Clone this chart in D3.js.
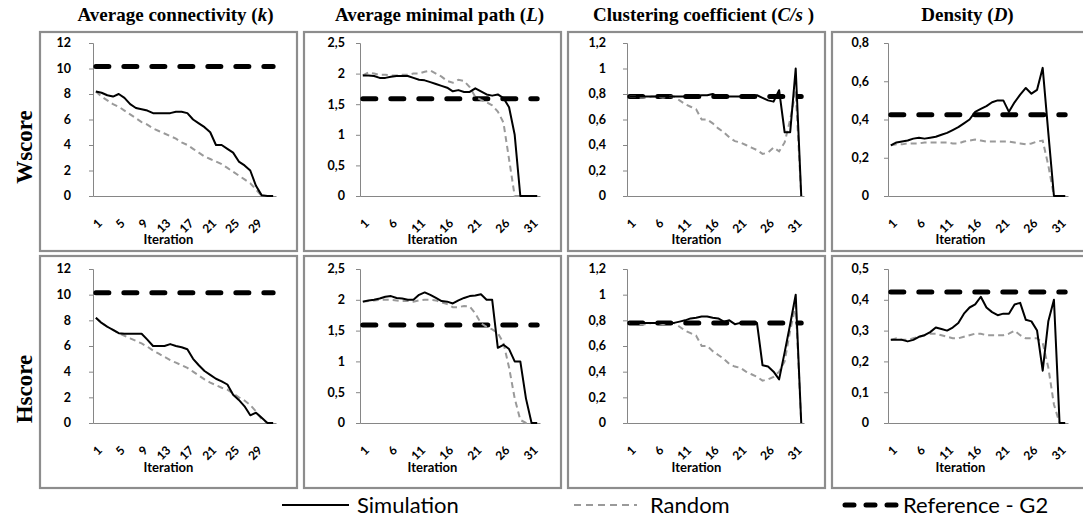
<!DOCTYPE html>
<html>
<head>
<meta charset="utf-8">
<script src="https://cdn.jsdelivr.net/npm/d3@7"></script>
<style>
body { margin: 0; background: #fff; }
</style>
</head>
<body>
<div id="chart"></div>
<script>
// iterations on the category axis
var iterations = [1,2,3,4,5,6,7,8,9,10,11,12,13,14,15,16,17,18,19,20,21,22,23,24,25,26,27,28,29,30,31,32];
var xTicksK = [1,5,9,13,17,21,25,29];
var xTicksOther = [1,6,11,16,21,26,31];

var yTicksK = [0,2,4,6,8,10,12];
var yTicksL = [0,0.5,1,1.5,2,2.5];
var yTicksC = [0,0.2,0.4,0.6,0.8,1,1.2];
var yTicksDW = [0,0.2,0.4,0.6,0.8];
var yTicksDH = [0,0.1,0.2,0.3,0.4,0.5];

// Wscore row
var simK_W = [8.2,8.1,7.9,7.8,8.0,7.7,7.2,6.9,6.8,6.7,6.5,6.5,6.5,6.5,6.6,6.6,6.5,6.0,5.7,5.4,5.0,4.0,4.0,3.7,3.4,2.7,2.4,2.0,0.8,0.05,0,0];
var randK_W = [8.2,7.8,7.5,7.2,7.0,6.7,6.4,6.1,5.8,5.6,5.3,5.1,4.9,4.7,4.5,4.2,4.0,3.7,3.4,3.1,2.9,2.7,2.5,2.2,1.9,1.6,1.3,1.0,0.5,0,0,0];
var simL_W = [1.97,1.97,1.96,1.93,1.93,1.95,1.96,1.96,1.96,1.93,1.90,1.89,1.86,1.83,1.80,1.77,1.71,1.73,1.70,1.70,1.76,1.71,1.66,1.64,1.66,1.60,1.45,1.0,0,0,0,0];
var randL_W = [1.97,2.02,2.0,1.98,1.98,1.97,1.97,1.98,1.98,2.0,2.0,2.03,2.05,2.0,1.95,1.88,1.85,1.9,1.88,1.78,1.62,1.57,1.53,1.48,1.38,1.2,0.6,0,0,0,0,0];
var simC_W = [0.78,0.78,0.78,0.78,0.78,0.78,0.78,0.78,0.78,0.78,0.78,0.78,0.78,0.79,0.79,0.80,0.78,0.77,0.78,0.78,0.78,0.78,0.78,0.79,0.77,0.75,0.74,0.83,0.5,0.5,1.0,0];
var randC_W = [0.78,0.78,0.77,0.77,0.78,0.78,0.77,0.78,0.78,0.75,0.72,0.70,0.68,0.60,0.60,0.57,0.53,0.50,0.46,0.43,0.42,0.40,0.38,0.36,0.33,0.34,0.38,0.35,0.42,0.6,0.82,0];
var simD_W = [0.265,0.28,0.285,0.29,0.30,0.305,0.30,0.305,0.31,0.32,0.33,0.345,0.36,0.38,0.40,0.44,0.455,0.47,0.49,0.50,0.50,0.44,0.49,0.53,0.565,0.535,0.555,0.67,0.33,0,0,0];
var randD_W = [0.265,0.27,0.27,0.275,0.275,0.275,0.28,0.28,0.28,0.28,0.28,0.275,0.275,0.285,0.29,0.295,0.29,0.285,0.285,0.285,0.285,0.285,0.28,0.275,0.27,0.275,0.285,0.29,0.16,0,0,0];

// Hscore row
var simK_H = [8.2,7.8,7.5,7.25,7.0,6.95,6.95,6.95,6.95,6.5,6.0,6.0,6.0,6.15,6.0,5.9,5.75,5.0,4.5,4.05,3.75,3.45,3.25,3.0,2.2,1.8,1.3,0.6,0.8,0.4,0,0];
var randK_H = [8.2,7.8,7.5,7.25,7.0,6.8,6.6,6.4,6.2,5.95,5.65,5.4,5.15,4.9,4.7,4.5,4.3,4.0,3.7,3.4,3.15,2.95,2.75,2.6,2.3,2.0,1.75,1.4,0.9,0.3,0,0];
var simL_H = [1.97,1.99,2.0,2.02,2.05,2.06,2.03,2.02,2.0,2.0,2.08,2.12,2.08,2.03,1.98,1.97,1.94,1.99,2.03,2.06,2.07,2.09,2.0,2.0,1.22,1.27,1.2,1.0,1.0,0.4,0,0];
var randL_H = [1.97,1.98,1.99,2.0,2.0,2.0,1.99,1.98,1.98,1.97,1.99,2.0,2.0,1.99,1.96,1.93,1.88,1.88,1.9,1.89,1.78,1.62,1.56,1.52,1.46,1.3,0.9,0.4,0.05,0,0,0];
var simC_H = [0.78,0.78,0.78,0.78,0.78,0.78,0.78,0.78,0.78,0.79,0.80,0.815,0.82,0.83,0.83,0.82,0.815,0.79,0.80,0.77,0.78,0.78,0.78,0.78,0.45,0.44,0.40,0.34,0.55,0.77,1.0,0];
var randC_H = [0.78,0.78,0.77,0.77,0.78,0.78,0.77,0.78,0.78,0.75,0.72,0.70,0.68,0.60,0.60,0.56,0.53,0.50,0.46,0.44,0.43,0.40,0.38,0.36,0.33,0.34,0.36,0.40,0.48,0.72,0.92,0];
var simD_H = [0.27,0.27,0.27,0.265,0.27,0.28,0.285,0.295,0.31,0.305,0.30,0.31,0.325,0.355,0.375,0.385,0.41,0.375,0.36,0.35,0.355,0.355,0.385,0.39,0.335,0.33,0.30,0.17,0.33,0.40,0,0];
var randD_H = [0.27,0.275,0.27,0.27,0.275,0.28,0.285,0.29,0.29,0.285,0.28,0.275,0.275,0.28,0.285,0.29,0.29,0.285,0.285,0.285,0.285,0.29,0.30,0.285,0.275,0.275,0.275,0.26,0.18,0.06,0,0];

// Reference - G2 values
var refK = 10.15, refL = 1.59, refC = 0.78, refD = 0.425;

var rowNames = ["Wscore", "Hscore"];
var titles = [
    ["Average connectivity (", "k", ")"],
    ["Average minimal path (", "L", ")"],
    ["Clustering coefficient (", "C/s", " )"],
    ["Density (", "D", ")"]
];

var panels = [
    { row: 0, col: 0, sim: simK_W, rand: randK_W, ref: refK, yTicks: yTicksK, xTicks: xTicksK },
    { row: 0, col: 1, sim: simL_W, rand: randL_W, ref: refL, yTicks: yTicksL, xTicks: xTicksOther },
    { row: 0, col: 2, sim: simC_W, rand: randC_W, ref: refC, yTicks: yTicksC, xTicks: xTicksOther },
    { row: 0, col: 3, sim: simD_W, rand: randD_W, ref: refD, yTicks: yTicksDW, xTicks: xTicksOther },
    { row: 1, col: 0, sim: simK_H, rand: randK_H, ref: refK, yTicks: yTicksK, xTicks: xTicksK },
    { row: 1, col: 1, sim: simL_H, rand: randL_H, ref: refL, yTicks: yTicksL, xTicks: xTicksOther },
    { row: 1, col: 2, sim: simC_H, rand: randC_H, ref: refC, yTicks: yTicksC, xTicks: xTicksOther },
    { row: 1, col: 3, sim: simD_H, rand: randD_H, ref: refD, yTicks: yTicksDH, xTicks: xTicksOther }
];

var w = 1083, h = 519;
var panelLeft = [40, 304, 568, 832];
var panelW = 257;
var rowTop = [32, 256];
var rowBottom = [251, 488];
var plotLeft = [93, 360, 627, 888];
var plotTop = [43, 269];
var plotBase = [196, 423];
var labelEnd = [71, 345, 606, 869];

var sans = "Lato, 'Noto Sans', sans-serif";
var serif = "'Liberation Serif', 'Times New Roman', serif";
var axisGrey = "#868686";

var svg = d3.select("#chart")
    .append("svg")
    .attr("width", w)
    .attr("height", h);

function fmt(d) {
    return String(d).replace(".", ",");
}

panels.forEach(function (p) {
    var px = panelLeft[p.col];
    var x0 = plotLeft[p.col];
    var x1 = px + panelW - 21;

    // panel frame
    svg.append("rect")
        .attr("x", px)
        .attr("y", rowTop[p.row])
        .attr("width", panelW)
        .attr("height", rowBottom[p.row] - rowTop[p.row])
        .attr("fill", "none")
        .attr("stroke", "#8d8d8d")
        .attr("stroke-width", 2.2);

    var xScale = d3.scaleBand()
        .domain(iterations)
        .range([x0, x1]);
    var cx = function (d) { return xScale(d) + xScale.bandwidth() / 2; };

    var yScale = d3.scaleLinear()
        .domain([0, p.yTicks[p.yTicks.length - 1]])
        .range([plotBase[p.row], plotTop[p.row]]);

    var g = svg.append("g");

    // y axis
    var yAxis = d3.axisLeft(yScale)
        .tickValues(p.yTicks)
        .tickSize(4)
        .tickFormat("");
    var ya = g.append("g")
        .attr("transform", "translate(" + x0 + ",0)")
        .call(yAxis);
    ya.select(".domain").attr("stroke", axisGrey);
    ya.selectAll(".tick line").attr("stroke", axisGrey);

    g.selectAll(".ylab")
        .data(p.yTicks)
        .enter()
        .append("text")
        .attr("x", labelEnd[p.col])
        .attr("y", function (d) { return yScale(d); })
        .attr("dy", "0.35em")
        .attr("text-anchor", "end")
        .attr("font-family", sans)
        .attr("font-weight", "bold")
        .attr("font-size", "12.5px")
        .attr("fill", "#000")
        .text(fmt);

    // x axis line
    var xAxis = d3.axisBottom(xScale).tickSize(0).tickFormat("");
    var xa = g.append("g")
        .attr("transform", "translate(0," + plotBase[p.row] + ")")
        .call(xAxis);
    xa.select(".domain").attr("stroke", axisGrey);

    g.selectAll(".xlab")
        .data(p.xTicks)
        .enter()
        .append("text")
        .attr("transform", function (d) {
            return "translate(" + (cx(d) + 7) + "," + (plotBase[p.row] + 28) + ") rotate(-45)";
        })
        .attr("text-anchor", "end")
        .attr("font-family", sans)
        .attr("font-weight", "bold")
        .attr("font-size", "12px")
        .text(function (d) { return d; });

    g.append("text")
        .attr("x", px + panelW / 2)
        .attr("y", rowBottom[p.row] - (p.row == 0 ? 7 : 16))
        .attr("text-anchor", "middle")
        .attr("font-family", sans)
        .attr("font-weight", "bold")
        .attr("font-size", "13px")
        .text("Iteration");

    // reference line
    g.append("line")
        .attr("x1", cx(iterations[0]))
        .attr("x2", cx(iterations[iterations.length - 1]))
        .attr("y1", yScale(p.ref))
        .attr("y2", yScale(p.ref))
        .attr("stroke", "#000")
        .attr("stroke-width", 5)
        .attr("stroke-linecap", "round")
        .attr("stroke-dasharray", "13,15");

    var line = d3.line()
        .x(function (d, i) { return cx(iterations[i]); })
        .y(function (d) { return yScale(d); });

    g.append("path")
        .datum(p.rand)
        .attr("d", line)
        .attr("fill", "none")
        .attr("stroke", "#9a9a9a")
        .attr("stroke-width", 2)
        .attr("stroke-dasharray", "6,4");

    g.append("path")
        .datum(p.sim)
        .attr("d", line)
        .attr("fill", "none")
        .attr("stroke", "#000")
        .attr("stroke-width", 2)
        .attr("stroke-linejoin", "round");
});

// column titles
titles.forEach(function (t, i) {
    var tt = svg.append("text")
        .attr("x", panelLeft[i] + panelW / 2 + 7)
        .attr("y", 21)
        .attr("text-anchor", "middle")
        .attr("font-family", serif)
        .attr("font-weight", "bold")
        .attr("font-size", "19px");
    tt.append("tspan").text(t[0]);
    tt.append("tspan").attr("font-style", "italic").text(t[1]);
    tt.append("tspan").text(t[2]);
});

// row titles
var rowCenters = [147, 389];
rowNames.forEach(function (r, i) {
    svg.append("text")
        .attr("transform", "translate(" + 32 + "," + rowCenters[i] + ") rotate(-90)")
        .attr("text-anchor", "middle")
        .attr("font-family", serif)
        .attr("font-weight", "bold")
        .attr("font-size", "23px")
        .text(r);
});

// legend
var legendY = 505;
var lg = svg.append("g");
lg.append("line")
    .attr("x1", 282).attr("x2", 349)
    .attr("y1", legendY).attr("y2", legendY)
    .attr("stroke", "#000").attr("stroke-width", 2);
lg.append("text")
    .attr("x", 357).attr("y", legendY).attr("dy", "0.35em")
    .attr("font-family", sans).attr("font-size", "22px")
    .text("Simulation");
lg.append("line")
    .attr("x1", 574).attr("x2", 637)
    .attr("y1", legendY).attr("y2", legendY)
    .attr("stroke", "#9a9a9a").attr("stroke-width", 2)
    .attr("stroke-dasharray", "7,5");
lg.append("text")
    .attr("x", 650).attr("y", legendY).attr("dy", "0.35em")
    .attr("font-family", sans).attr("font-size", "22px")
    .text("Random");
lg.append("line")
    .attr("x1", 845).attr("x2", 896)
    .attr("y1", legendY).attr("y2", legendY)
    .attr("stroke", "#000").attr("stroke-width", 5)
    .attr("stroke-linecap", "round")
    .attr("stroke-dasharray", "9,12");
lg.append("text")
    .attr("x", 903).attr("y", legendY).attr("dy", "0.35em")
    .attr("font-family", sans).attr("font-size", "22px")
    .text("Reference - G2");
</script>
</body>
</html>
